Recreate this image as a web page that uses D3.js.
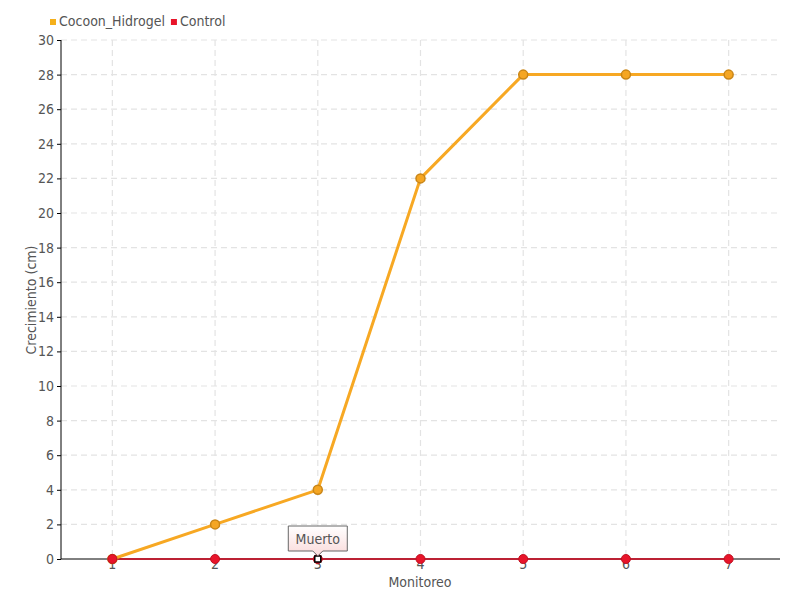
<!DOCTYPE html>
<html><head><meta charset="utf-8">
<script src="https://cdn.jsdelivr.net/npm/d3@7"></script>
<style>
body{margin:0;background:#fff;}
text{font-family:"Liberation Sans Narrow","DejaVu Sans Condensed","DejaVu Sans",sans-serif;}
</style></head>
<body><svg id="c" width="800" height="600"></svg>
<script>
const categories = ["1","2","3","4","5","6","7"];
const cocoon = [0,2,4,22,28,28,28];
const control = [0,0,0,0,0,0,0];
const yTicks = [0,2,4,6,8,10,12,14,16,18,20,22,24,26,28,30];
const seriesNames = ["Cocoon_Hidrogel","Control"];
const tooltipText = "Muerto";
const tooltipIndex = 2;

const svg = d3.select("#c");
const m = {l:61, r:20, t:40, b:41};
const W = 800, H = 600;
const x = d3.scaleBand().domain(categories).range([m.l, W-m.r]).padding(0);
const y = d3.scaleLinear().domain([0,30]).range([H-m.b, m.t]);
const cx = d => x(d) + x.bandwidth()/2;

const grid = svg.append("g");
grid.selectAll("line.h").data(yTicks.filter(t=>t>0)).join("line")
  .attr("x1", m.l).attr("x2", W-m.r).attr("y1", d=>y(d)).attr("y2", d=>y(d))
  .attr("stroke","#e3e3e3").attr("stroke-dasharray","6,4").attr("stroke-width",1.2);
grid.selectAll("line.v").data(categories).join("line")
  .attr("x1", cx).attr("x2", cx).attr("y1", m.t).attr("y2", H-m.b)
  .attr("stroke","#e3e3e3").attr("stroke-dasharray","6,4").attr("stroke-width",1.2);

// axes
const yAxis = svg.append("g").attr("transform",`translate(${m.l},0)`)
  .call(d3.axisLeft(y).tickValues(yTicks).tickSize(4).tickPadding(3));
yAxis.select(".domain").attr("stroke","#000").attr("d",`M0,${m.t}V${H-m.b}`);
yAxis.selectAll(".tick line").attr("stroke","#000");
yAxis.selectAll("text").attr("fill","#555").attr("font-size",14);

const xAxis = svg.append("g").attr("transform",`translate(0,${H-m.b})`)
  .call(d3.axisBottom(x).tickSize(0).tickPadding(0));
xAxis.select(".domain").attr("stroke","#000").attr("d",`M${m.l},0H${W-m.r}`);
xAxis.selectAll("text").attr("fill","#555").attr("font-size",14);

svg.append("text").attr("x",420).attr("y",587).attr("text-anchor","middle")
  .attr("fill","#555").attr("font-size",14).text("Monitoreo");
svg.append("text").attr("transform","translate(36,300) rotate(-90)").attr("text-anchor","middle")
  .attr("fill","#555").attr("font-size",14).text("Crecimiento (cm)");

const line = d3.line().x((d,i)=>cx(categories[i])).y(d=>y(d));
svg.append("path").datum(control).attr("d",line).attr("fill","none")
  .attr("stroke","#d0021b").attr("stroke-width",1.5);
svg.append("path").datum(cocoon).attr("d",line).attr("fill","none")
  .attr("stroke","#f7a823").attr("stroke-width",3);

svg.selectAll("circle.co").data(cocoon).join("circle")
  .attr("cx",(d,i)=>cx(categories[i])).attr("cy",d=>y(d)).attr("r",4.5)
  .attr("fill","#f5a623").attr("stroke","#c98516").attr("stroke-width",1.5);
svg.selectAll("circle.ct").data(control).join("circle")
  .attr("cx",(d,i)=>cx(categories[i])).attr("cy",d=>y(d)).attr("r",4.5)
  .attr("fill","#e8142a").attr("stroke","#c01020").attr("stroke-width",1);

// highlighted point
const hx = cx(categories[tooltipIndex]), hy = y(control[tooltipIndex]);
svg.append("rect").attr("x",hx-3).attr("y",hy-3).attr("width",6).attr("height",6)
  .attr("fill","#fff").attr("stroke","#000").attr("stroke-width",1.5);

// tooltip
const defs = svg.append("defs");
const gr = defs.append("linearGradient").attr("id","tg").attr("x1",0).attr("y1",0).attr("x2",0).attr("y2",1);
gr.append("stop").attr("offset","0").attr("stop-color","#fff");
gr.append("stop").attr("offset","1").attr("stop-color","#fadada");
const tw = 59, th = 25, tb = hy - 8;
svg.append("path")
  .attr("d",`M${hx-tw/2},${tb-th}H${hx+tw/2}V${tb}H${hx+5}L${hx},${tb+5}L${hx-5},${tb}H${hx-tw/2}Z`)
  .attr("fill","url(#tg)").attr("stroke","#666").attr("stroke-width",1);
svg.append("text").attr("x",hx).attr("y",tb-th/2+5).attr("text-anchor","middle")
  .attr("fill","#555").attr("font-size",14).text(tooltipText);

// legend
const colors = ["#f5b01b","#e8142a"];
const lg = svg.append("g");
let lx = 50;
seriesNames.forEach((n,i)=>{
  lg.append("rect").attr("x",lx).attr("y",19).attr("width",6).attr("height",6).attr("fill",colors[i]);
  const t = lg.append("text").attr("x",lx+9).attr("y",26).attr("fill","#555").attr("font-size",14).text(n);
  lx += 9 + t.node().getComputedTextLength() + 6;
});
</script></body></html>
